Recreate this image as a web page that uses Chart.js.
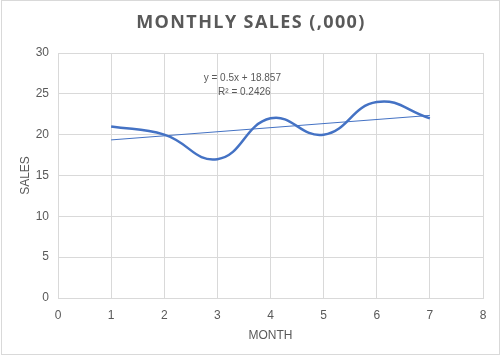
<!DOCTYPE html>
<html>
<head>
<meta charset="utf-8">
<script src="https://cdn.jsdelivr.net/npm/chart.js@4/dist/chart.umd.min.js"></script>
<style>
  html, body { margin: 0; padding: 0; background: #fff; }
  canvas { display: block; }
</style>
</head>
<body>
<canvas id="chart" width="504" height="358"></canvas>
<script>
// data
const months = [1, 2, 3, 4, 5, 6, 7];
const sales = [21, 20, 17, 22, 20, 24, 22];
const xTicks = [0, 1, 2, 3, 4, 5, 6, 7, 8];
const yTicks = [0, 5, 10, 15, 20, 25, 30];
const chartTitle = 'MONTHLY SALES (,000)';

// linear trendline from the data
const n = months.length;
const mx = months.reduce((a, b) => a + b, 0) / n;
const my = sales.reduce((a, b) => a + b, 0) / n;
let sxy = 0, sxx = 0, syy = 0;
months.forEach((x, i) => {
  sxy += (x - mx) * (sales[i] - my);
  sxx += (x - mx) * (x - mx);
  syy += (sales[i] - my) * (sales[i] - my);
});
const slope = sxy / sxx;
const intercept = my - slope * mx;
const r2 = (sxy * sxy) / (sxx * syy);
const trend = [months[0], months[n - 1]].map(x => ({ x: x, y: slope * x + intercept }));

const grey = '#595959';
const gridColor = '#d9d9d9';
const blue = '#4472C4';

const frame = {
  id: 'frame',
  beforeDraw(chart) {
    const c = chart.ctx;
    c.save();
    c.fillStyle = '#fff';
    c.fillRect(0, 0, chart.width, chart.height);
    c.strokeStyle = gridColor;
    c.lineWidth = 1;
    c.strokeRect(1.5, 0.5, 498, 354);
    // title, drawn here so it can get letter spacing
    c.fillStyle = grey;
    c.font = 'bold 18px "Open Sans", sans-serif';
    c.letterSpacing = '1.4px';
    c.textAlign = 'center';
    c.textBaseline = 'middle';
    c.fillText(chartTitle, 251, 23);
    c.restore();
  },
  afterDatasetsDraw(chart) {
    const c = chart.ctx;
    const xs = chart.scales.x, ys = chart.scales.y;
    c.save();
    c.fillStyle = grey;
    c.font = '10px "Liberation Sans", sans-serif';
    c.textAlign = 'center';
    c.textBaseline = 'middle';
    const px = xs.getPixelForValue(3.47);
    const py = ys.getPixelForValue(26.85);
    c.fillText('y = ' + slope.toFixed(1) + 'x + ' + intercept.toFixed(3), px, py);
    c.fillText('R² = ' + r2.toFixed(4), px + 2, py + 14);
    c.restore();
  }
};

new Chart(document.getElementById('chart'), {
  type: 'scatter',
  data: {
    datasets: [
      {
        label: 'Sales',
        data: months.map((m, i) => ({ x: m, y: sales[i] })),
        showLine: true,
        borderColor: blue,
        borderWidth: 2.5,
        pointRadius: 0,
        tension: 0.45,
        order: 1
      },
      {
        label: 'Linear (Sales)',
        data: trend,
        showLine: true,
        borderColor: blue,
        borderWidth: 1,
        pointRadius: 0,
        order: 2
      }
    ]
  },
  options: {
    responsive: false,
    animation: false,
    layout: { padding: { left: 0, right: 21, top: 53, bottom: 0 } },
    plugins: {
      legend: { display: false },
      tooltip: { enabled: false },
      title: { display: false }
    },
    scales: {
      x: {
        type: 'linear',
        min: 0,
        max: 8,
        afterBuildTicks: s => { s.ticks = xTicks.map(v => ({ value: v })); },
        afterFit: s => { s.height = 60; },
        grid: { color: gridColor, drawTicks: false },
        border: { color: gridColor },
        ticks: { color: grey, padding: 10, font: { family: '"Liberation Sans", sans-serif', size: 12 } },
        title: {
          display: true,
          text: 'MONTH',
          color: grey,
          font: { family: '"Liberation Sans", sans-serif', size: 12 },
          padding: { top: 4, bottom: 15 }
        }
      },
      y: {
        min: 0,
        max: 30,
        afterBuildTicks: s => { s.ticks = yTicks.map(v => ({ value: v })); },
        afterFit: s => { s.width = 58; },
        grid: { color: gridColor, drawTicks: false },
        border: { color: gridColor },
        ticks: { color: grey, padding: 9, font: { family: '"Liberation Sans", sans-serif', size: 12 } },
        title: {
          display: true,
          text: 'SALES',
          color: grey,
          font: { family: '"Liberation Sans", sans-serif', size: 12 },
          padding: { top: 18, bottom: 4 }
        }
      }
    }
  },
  plugins: [frame]
});
</script>
</body>
</html>
